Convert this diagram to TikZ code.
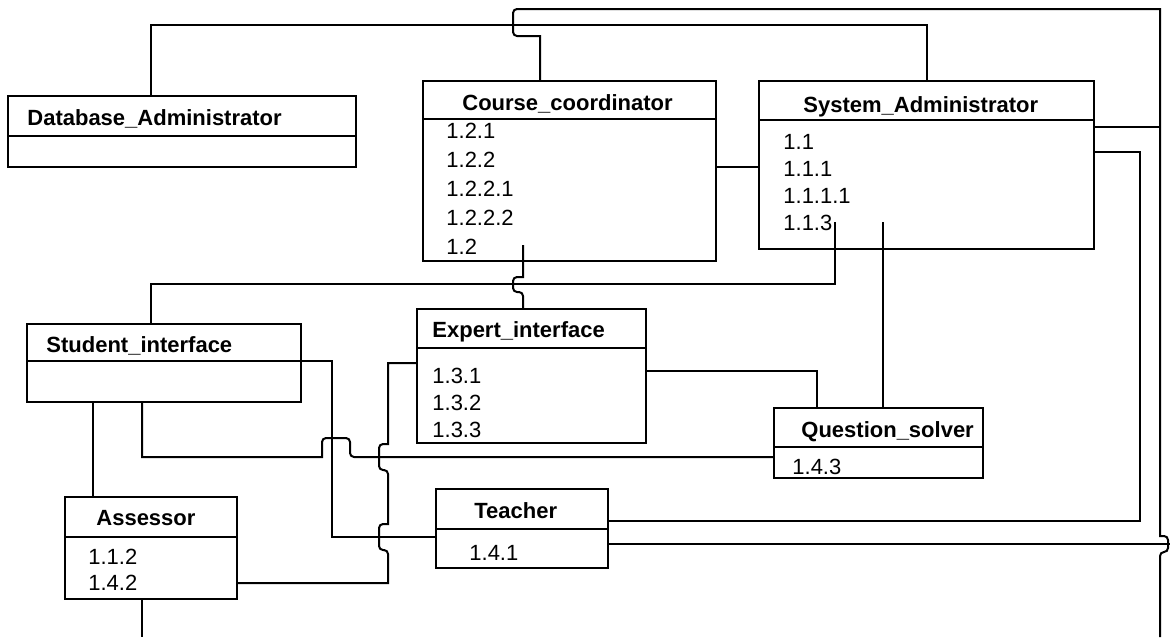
\documentclass[tikz,border=0pt]{standalone}
\usepackage{fontspec}
\setmainfont{Liberation Sans}
\tikzset{
  cls/.style={draw, line width=1.1pt, anchor=north west, inner sep=0pt, outer sep=0pt},
  ttl/.style={anchor=base west, inner sep=0pt, font=\fontsize{11}{13}\selectfont\bfseries},
  itm/.style={anchor=base west, inner sep=0pt, font=\fontsize{11}{13}\selectfont},
  wire/.style={line width=1pt}
}
\begin{document}
\begin{tikzpicture}[x=0.5pt, y=-0.5pt]
	\useasboundingbox (0,0) rectangle (1171,637);
	% classes, head and body
	\node[cls, minimum width=174pt, minimum height=20pt] (daH) at (8,96) {};
	\node[cls, minimum width=174pt, minimum height=15.5pt] (daB) at (daH.south west) {};
	\node[cls, minimum width=146.5pt, minimum height=19pt] (ccH) at (423,81) {};
	\node[cls, minimum width=146.5pt, minimum height=71pt] (ccB) at (ccH.south west) {};
	\node[cls, minimum width=167.5pt, minimum height=19.5pt] (saH) at (759,81) {};
	\node[cls, minimum width=167.5pt, minimum height=64.5pt] (saB) at (saH.south west) {};
	\node[cls, minimum width=137pt, minimum height=18.5pt] (siH) at (27,324) {};
	\node[cls, minimum width=137pt, minimum height=20.5pt] (siB) at (siH.south west) {};
	\node[cls, minimum width=114.5pt, minimum height=19.5pt] (eiH) at (417,309) {};
	\node[cls, minimum width=114.5pt, minimum height=47.5pt] (eiB) at (eiH.south west) {};
	\node[cls, minimum width=104.5pt, minimum height=19.5pt] (qsH) at (774,408) {};
	\node[cls, minimum width=104.5pt, minimum height=15.5pt] (qsB) at (qsH.south west) {};
	\node[cls, minimum width=86pt, minimum height=20pt] (teH) at (436,489) {};
	\node[cls, minimum width=86pt, minimum height=19.5pt] (teB) at (teH.south west) {};
	\node[cls, minimum width=86pt, minimum height=20pt] (asH) at (65,497) {};
	\node[cls, minimum width=86pt, minimum height=31pt] (asB) at (asH.south west) {};
	% names
	\node[ttl] (daN) at (27,125) {Database\_Administrator};
	\node[ttl] (ccN) at (462,110) {Course\_coordinator};
	\node[ttl] (saN) at (803,112) {System\_Administrator};
	\node[ttl] (siN) at (46,352) {Student\_interface};
	\node[ttl] (eiN) at (432,337) {Expert\_interface};
	\node[ttl] (qsN) at (801,437) {Question\_solver};
	\node[ttl] (teN) at (474,518) {Teacher};
	\node[ttl] (asN) at (96,525) {Assessor};
	% entries
	\foreach \lbl [count=\i] in {1.2.1,1.2.2,1.2.2.1,1.2.2.2,1.2}
		\node[itm] (cc\i) at (446,{138+29*(\i-1)}) {\lbl};
	\foreach \lbl [count=\i] in {1.1,1.1.1,1.1.1.1,1.1.3}
		\node[itm] (sa\i) at (783,{149+27*(\i-1)}) {\lbl};
	\foreach \lbl [count=\i] in {1.3.1,1.3.2,1.3.3}
		\node[itm] (ei\i) at (432,{383+27*(\i-1)}) {\lbl};
	\foreach \lbl [count=\i] in {1.1.2,1.4.2}
		\node[itm] (as\i) at (88,{564+26*(\i-1)}) {\lbl};
	\node[itm] (qs1) at (792,474) {1.4.3};
	\node[itm] (te1) at (469,560) {1.4.1};
	% bends
	\path (151,25) coordinate (J1)
		(927,25) coordinate (J2)
		(540,36) coordinate (J3)
		(513,9) coordinate (J4)
		(1160,9) coordinate (J5)
		(1160,536) coordinate (J6)
		(1160,637) coordinate (J7)
		(1160,127) coordinate (J8)
		(1140,521) coordinate (J9)
		(1140,152) coordinate (J10)
		(1170,544) coordinate (J11)
		(716,167) coordinate (J12)
		(835,222) coordinate (J13)
		(151,284) coordinate (J14)
		(883,222) coordinate (J15)
		(523,245) coordinate (J16)
		(523,277) coordinate (J17)
		(817,371) coordinate (J18)
		(93,450) coordinate (J19)
		(142,457) coordinate (J20)
		(322,457) coordinate (J21)
		(332,361) coordinate (J22)
		(332,537) coordinate (J23)
		(388,363) coordinate (J24)
		(388,444) coordinate (J25)
		(388,524) coordinate (J26)
		(388,583) coordinate (J27)
		(142,637) coordinate (J28);
	% links
	\draw[wire] (daH.north -| J1) -- (J1) -- (J2) -- (saH.north -| J2);
	\draw[wire] (ccH.north -| J3) -- (J3) [rounded corners=2pt] -| (J4) [sharp corners] -- (J5) -- (J6)
		[rounded corners=2pt] -- ++(8,0) -- ++(0,16) -- ++(-8,0) [sharp corners] -- (J7);
	\draw[wire] (saB.east |- J8) -- (J8);
	\draw[wire] (teH.east |- J9) -- (J9) -- (J10) -- (saB.east |- J10);
	\draw[wire] (teB.east |- J11) -- (J11);
	\draw[wire] (ccB.east |- J12) -- (saB.west |- J12);
	\draw[wire] (J13) |- (J14) -- (siH.north -| J14);
	\draw[wire] (J15) -- (qsH.north -| J15);
	\draw[wire] (J16) -- (J17) [rounded corners=2pt] -- ++(-10,0) -- ++(0,15) -- ++(10,0) [sharp corners] -- (eiH.north -| J17);
	\draw[wire] (eiB.east |- J18) -- (J18) -- (qsH.north -| J18);
	\draw[wire] (siB.south -| J19) -- (asH.north -| J19);
	\draw[wire] (siB.south -| J20) -- (J20) -- (J21) [rounded corners=2pt] -- ++(0,-19) -- ++(28,0) -- ++(0,19) [sharp corners] -- (qsB.west |- J20);
	\draw[wire] (siB.east |- J22) -- (J22) -- (J23) -- (teB.west |- J23);
	\draw[wire] (eiB.west |- J24) -- (J24) -- (J25) [rounded corners=2pt] -- ++(-9,0) -- ++(0,26) -- ++(9,0) [sharp corners] -- (J26)
		[rounded corners=2pt] -- ++(-9,0) -- ++(0,26) -- ++(9,0) [sharp corners] -- (J27) -- (asB.east |- J27);
	\draw[wire] (asB.south -| J28) -- (J28);
\end{tikzpicture}
\end{document}
